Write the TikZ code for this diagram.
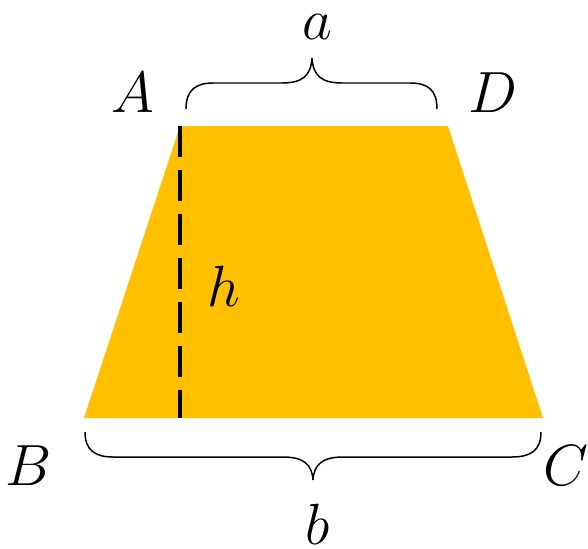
\documentclass[tikz,border=0pt]{standalone}
\usepackage{amsmath}
\usepackage{tikz}
\usepackage{xcolor}
\definecolor{trapfill}{HTML}{FFC000}

\begin{document}
\begin{tikzpicture}[x=0.02cm, y=-0.02cm,
		lbl/.style={font=\Huge, scale=1.33, inner sep=0pt},
		bracel/.style={line width=0.85pt}]
	\useasboundingbox (0,0) rectangle (588,548);
	
	% Corners
	\coordinate (A) at (180,126);
	\coordinate (D) at (448,126);
	\coordinate (C) at (543,418);
	\coordinate (B) at (84,418);
	\coordinate (H) at (180,418);
	
	% Trapezoid
	\fill[trapfill] (A) -- (D) -- (C) -- (B) -- cycle;
	
	% Height
	\draw[line width=2.3pt, dash pattern=on 17.6pt off 7.4pt] (A) -- (H);
	
	% Top brace
	\draw[bracel] (186,109) .. controls (186,90) and (196,83) .. (213,83) -- (282,83)
		.. controls (302,83) and (311,76) .. (312,58)
		.. controls (313,76) and (322,83) .. (342,83) -- (410,83)
		.. controls (428,83) and (437,90) .. (437,109);
	
	% Bottom brace
	\draw[bracel] (85,432) .. controls (85,450) and (95,457) .. (113,457) -- (283,457)
		.. controls (303,457) and (312,464) .. (313,480)
		.. controls (314,464) and (323,457) .. (343,457) -- (512,457)
		.. controls (531,457) and (541,450) .. (541,432);
	
	% Labels
	\node[lbl] (lA) at (133,93) {$A$};
	\node[lbl] (lD) at (493,93) {$D$};
	\node[lbl] (lB) at (29,466) {$B$};
	\node[lbl] (lC) at (566,466) {$C$};
	\node[lbl] (la) at (317,27) {$a$};
	\node[lbl] (lb) at (318,524) {$b$};
	\node[lbl] (lh) at (224,286) {$h$};
\end{tikzpicture}
\end{document}
